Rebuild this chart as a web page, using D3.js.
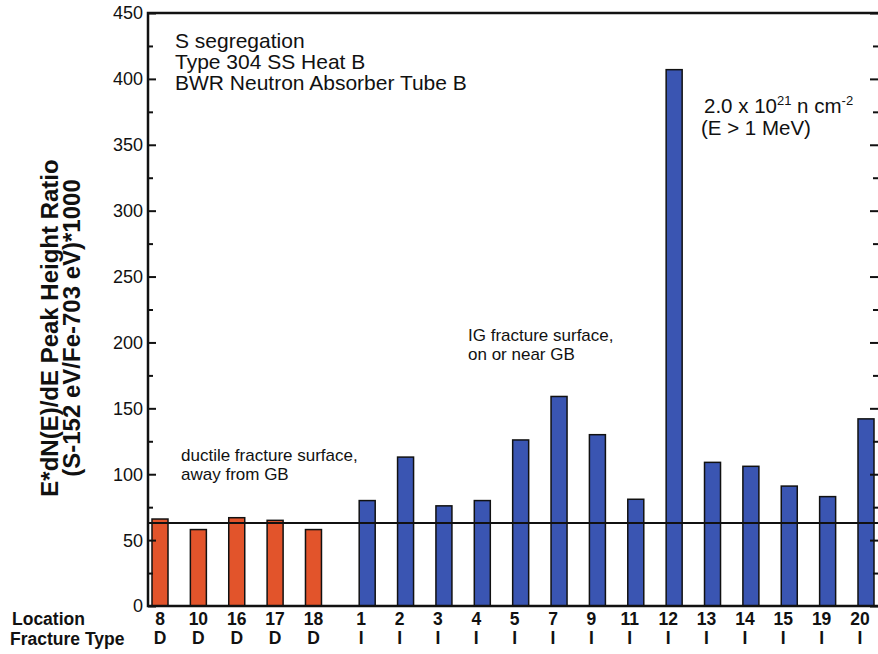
<!DOCTYPE html>
<html>
<head>
<meta charset="utf-8">
<script src="https://cdn.jsdelivr.net/npm/d3@7"></script>
<style>
  body { margin: 0; background: #fff; }
  svg { display: block; font-family: "Liberation Sans", Arial, sans-serif; }
</style>
</head>
<body>
<script>
// values
const locations = ["8", "10", "16", "17", "18", "1", "2", "3", "4", "5", "7", "9", "11", "12", "13", "14", "15", "19", "20"]
const fractureTypes = ["D", "D", "D", "D", "D", "I", "I", "I", "I", "I", "I", "I", "I", "I", "I", "I", "I", "I", "I"]
const ratios = [66, 58, 67, 65, 58, 80, 113, 76, 80, 126, 159, 130, 81, 407, 109, 106, 91, 83, 142]
const yTicks = [0, 50, 100, 150, 200, 250, 300, 350, 400, 450]
const meanLevel = 63

const width = 878
const height = 654

const svg = d3.select('body').append('svg')
    .attr('width', width)
    .attr('height', height)

const plotL = 148, plotR = 878, plotT = 13, plotB = 606

const y = d3.scaleLinear()
    .domain([0, 450])
    .range([plotB, plotT])

// ductile group and IG group are separated by a small extra gap
const slot = (d, i) => i + (fractureTypes[i] === 'I' ? 0.4 : 0)
const x = d3.scaleLinear()
    .domain([0, 18.4])
    .range([160, 866])

const barW = 16
const colors = { D: '#e2542b', I: '#3a55b2' }

const data = locations.map((loc, i) => ({ loc, type: fractureTypes[i], v: ratios[i], i }))

// bars
svg.selectAll('rect.bar')
    .data(data)
    .enter()
    .append('rect')
    .attr('class', 'bar')
    .attr('x', d => x(slot(d, d.i)) - barW / 2)
    .attr('y', d => y(d.v))
    .attr('width', barW)
    .attr('height', d => y(0) - y(d.v))
    .attr('fill', d => colors[d.type])
    .attr('stroke', '#111')
    .attr('stroke-width', 1.5)

// reference line
svg.append('line')
    .attr('x1', plotL).attr('x2', plotR)
    .attr('y1', y(meanLevel)).attr('y2', y(meanLevel))
    .attr('stroke', '#111')
    .attr('stroke-width', 2)

// frame ticks, major every 50 and minor between
const minor = d3.range(25, 450, 50)
const tickAxis = (axis, at, values, size) => {
    const g = svg.append('g').attr('transform', `translate(${at},0)`)
        .call(axis(y).tickValues(values).tickSize(size).tickFormat(''))
    g.select('.domain').remove()
    g.selectAll('line').attr('stroke', '#111').attr('stroke-width', 2)
}
tickAxis(d3.axisRight, plotL, yTicks, 8)
tickAxis(d3.axisRight, plotL, minor, 5)
tickAxis(d3.axisLeft, plotR, yTicks, 8)
tickAxis(d3.axisLeft, plotR, minor, 5)

svg.append('path')
    .attr('d', `M${plotR},${y(450)}H${plotL}V${y(0)}H${plotR}`)
    .attr('fill', 'none')
    .attr('stroke', '#111')
    .attr('stroke-width', 2.5)

// y tick labels
svg.selectAll('text.ytick')
    .data(yTicks)
    .enter()
    .append('text')
    .attr('class', 'ytick')
    .attr('x', plotL - 5)
    .attr('y', d => y(d))
    .attr('dy', '0.36em')
    .attr('text-anchor', 'end')
    .attr('font-size', 18)
    .attr('fill', '#111')
    .text(d => d)

// y axis title
const yt = svg.append('text')
    .attr('transform', `translate(58,328) rotate(-90)`)
    .attr('text-anchor', 'middle')
    .attr('font-weight', 'bold')
    .attr('font-size', 24)
    .attr('fill', '#111')
yt.append('tspan').attr('x', 0).attr('dy', 0).text('E*dN(E)/dE Peak Height Ratio')
yt.append('tspan').attr('x', 0).attr('dy', 22).text('(S-152 eV/Fe-703 eV)*1000')

// bottom category labels
const lab = svg.append('g').attr('font-weight', 'bold').attr('font-size', 17.5).attr('fill', '#111')
lab.append('text').attr('x', 12).attr('y', 625).text('Location')
lab.append('text').attr('x', 10).attr('y', 645).text('Fracture Type')

lab.selectAll('text.loc')
    .data(data)
    .enter()
    .append('text')
    .attr('class', 'loc')
    .attr('x', d => x(slot(d, d.i)) - (d.type === 'I' ? 6 : 0))
    .attr('y', 625)
    .attr('text-anchor', 'middle')
    .text(d => d.loc)

lab.selectAll('text.ftype')
    .data(data)
    .enter()
    .append('text')
    .attr('class', 'ftype')
    .attr('x', d => x(slot(d, d.i)) - (d.type === 'I' ? 6 : 0))
    .attr('y', 644)
    .attr('text-anchor', 'middle')
    .text(d => d.type)

// annotations
const note = svg.append('g').attr('font-size', 21).attr('fill', '#111')
note.append('text').attr('x', 175).attr('y', 48).text('S segregation')
note.append('text').attr('x', 175).attr('y', 69).text('Type 304 SS Heat B')
note.append('text').attr('x', 175).attr('y', 90).text('BWR Neutron Absorber Tube B')

const flu = svg.append('text').attr('x', 704).attr('y', 113)
    .attr('font-size', 20.5).attr('fill', '#111')
flu.append('tspan').text('2.0 x 10')
flu.append('tspan').attr('font-size', 13).attr('dy', -8).text('21')
flu.append('tspan').attr('dy', 8).text(' n cm')
flu.append('tspan').attr('font-size', 13).attr('dy', -8).text('-2')
svg.append('text').attr('x', 701).attr('y', 135)
    .attr('font-size', 20.5).attr('fill', '#111').text('(E > 1 MeV)')

const ig = svg.append('g').attr('font-size', 17).attr('fill', '#111')
ig.append('text').attr('x', 468).attr('y', 341).text('IG fracture surface,')
ig.append('text').attr('x', 468).attr('y', 360).text('on or near GB')

const duc = svg.append('g').attr('font-size', 17).attr('fill', '#111')
duc.append('text').attr('x', 181).attr('y', 461).text('ductile fracture surface,')
duc.append('text').attr('x', 181).attr('y', 480).text('away from GB')
</script>
</body>
</html>
